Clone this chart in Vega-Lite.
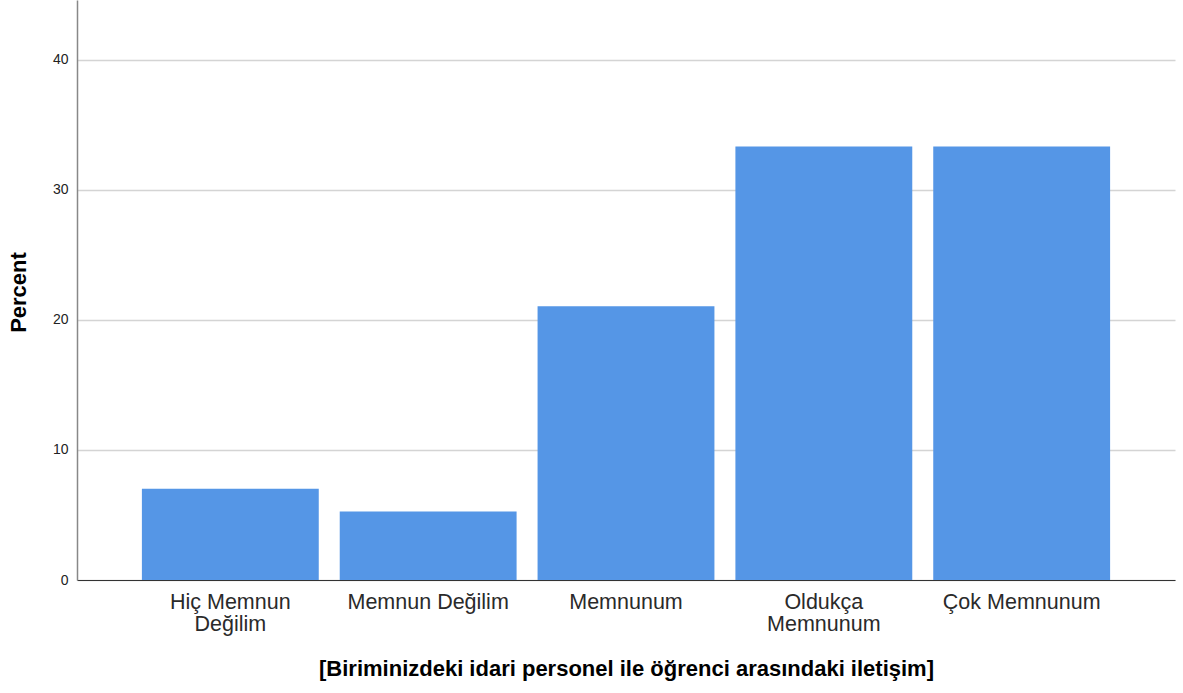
{
  "$schema": "https://vega.github.io/schema/vega-lite/v6.json",
  "width": 1098,
  "height": 580,
  "autosize": {"type": "none"},
  "padding": {"left": 77, "top": 0, "right": 8, "bottom": 113},
  "background": "white",
  "config": {"view": {"stroke": null}, "font": "Liberation Sans"},
  "data": {
    "values": [
      {"category": "Hiç Memnun Değilim", "percent": 7.02},
      {"category": "Memnun Değilim", "percent": 5.26},
      {"category": "Memnunum", "percent": 21.05},
      {"category": "Oldukça Memnunum", "percent": 33.33},
      {"category": "Çok Memnunum", "percent": 33.33}
    ]
  },
  "mark": {"type": "bar", "color": "#5596e6"},
  "encoding": {
    "x": {
      "field": "category",
      "type": "nominal",
      "sort": null,
      "scale": {"paddingInner": 0.106, "paddingOuter": 0.328},
      "axis": {
        "title": "[Biriminizdeki idari personel ile öğrenci arasındaki iletişim]",
        "titleFont": "Liberation Sans",
        "titleFontSize": 22,
        "titleFontWeight": "bold",
        "titleColor": "#000000",
        "titleBaseline": "middle",
        "titleY": 88,
        "labelAngle": 0,
        "labelFont": "Liberation Sans",
        "labelFontSize": 21.5,
        "labelColor": "#2a2a2a",
        "labelPadding": 11,
        "labelLineHeight": 22,
        "labelLimit": 0,
        "labelExpr": "datum.value == 'Hiç Memnun Değilim' ? ['Hiç Memnun', 'Değilim'] : datum.value == 'Oldukça Memnunum' ? ['Oldukça', 'Memnunum'] : datum.value",
        "ticks": false,
        "domainColor": "#333333",
        "domainWidth": 1
      }
    },
    "y": {
      "field": "percent",
      "type": "quantitative",
      "scale": {"domain": [0, 44.6], "nice": false},
      "axis": {
        "title": "Percent",
        "titleFont": "Liberation Sans",
        "titleFontSize": 22,
        "titleFontWeight": "bold",
        "titleColor": "#000000",
        "titleX": -59,
        "titleY": 292,
        "titleAngle": -90,
        "titleBaseline": "middle",
        "titleAlign": "center",
        "values": [0, 10, 20, 30, 40],
        "labelFont": "Liberation Sans",
        "labelFontSize": 14,
        "labelColor": "#222222",
        "labelPadding": 9,
        "ticks": false,
        "grid": true,
        "gridColor": "#d4d4d4",
        "gridWidth": 1.5,
        "domainColor": "#888888",
        "domainWidth": 1.5
      }
    }
  }
}
